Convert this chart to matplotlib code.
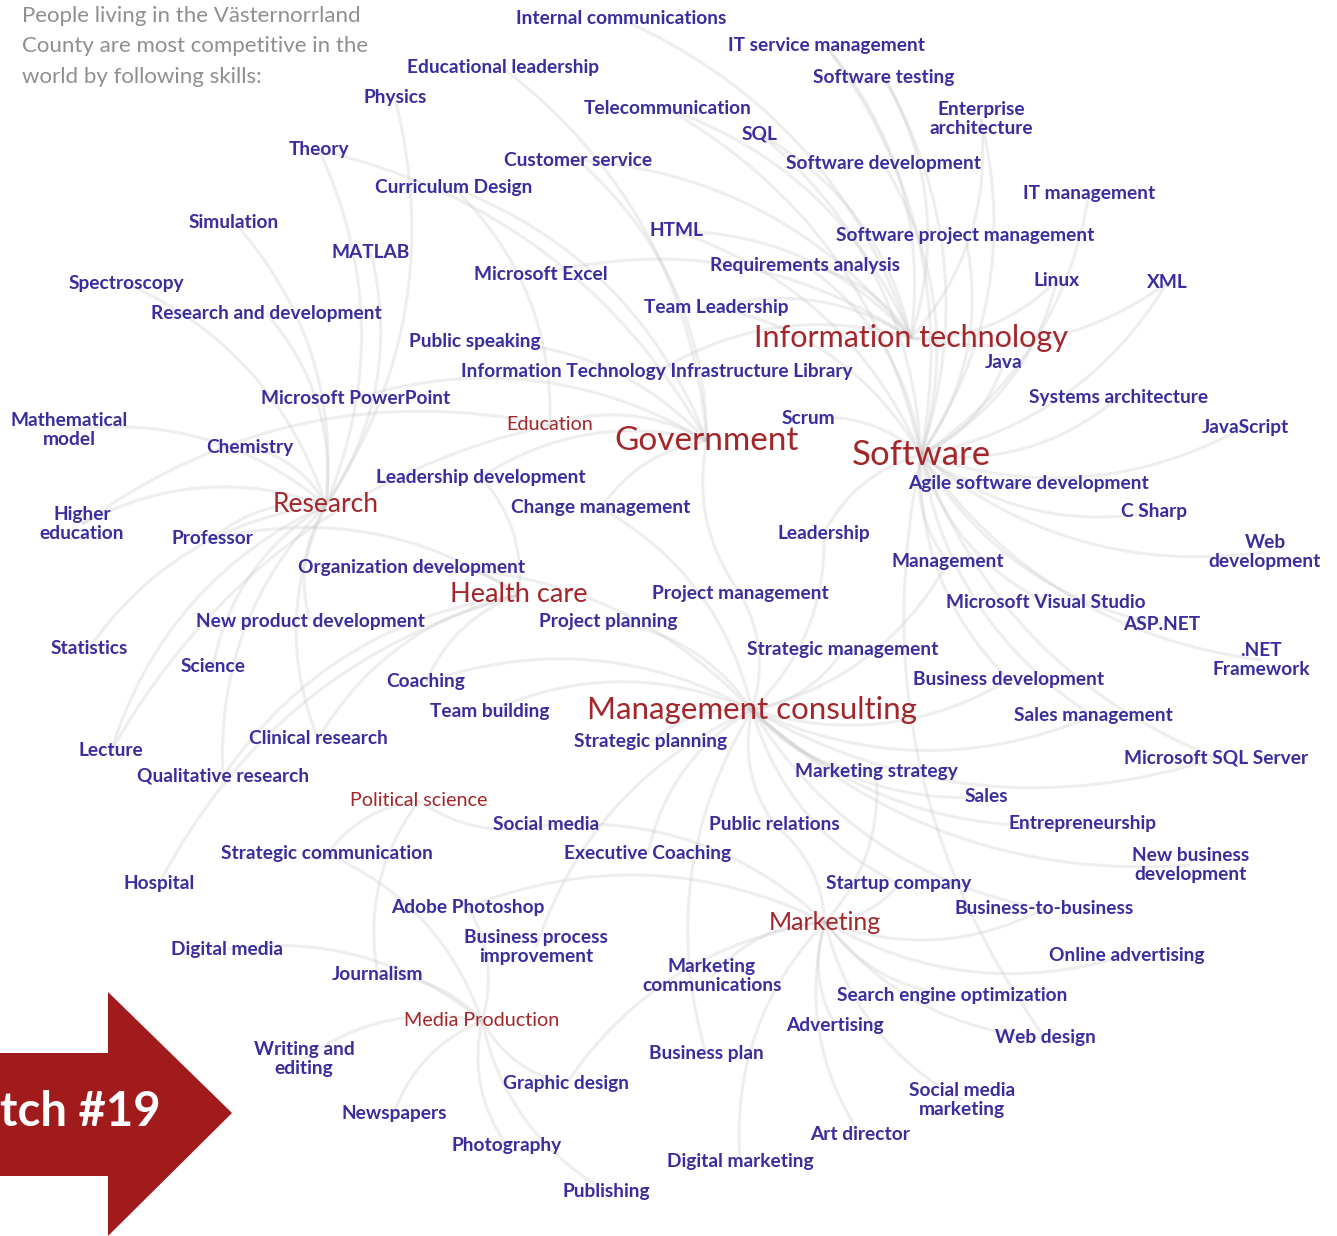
import matplotlib
matplotlib.use("Agg")
import matplotlib.pyplot as plt
from matplotlib.path import Path
from matplotlib.patches import PathPatch, Polygon
import numpy as np

plt.rcParams['font.family'] = ['Lato', 'DejaVu Sans']

# ---------------- data ----------------
intro = "People living in the Västernorrland\nCounty are most competitive in the\nworld by following skills:"
badge = "tch #19"

hubs = ["Information technology", "Government", "Software", "Management consulting",
        "Research", "Health care", "Marketing"]
minor_hubs = ["Education", "Political science", "Media Production"]

skills = [
    "Internal communications", "IT service management", "Educational leadership", "Software testing",
    "Physics", "Telecommunication", "Enterprise\narchitecture", "SQL", "Theory", "Customer service",
    "Software development", "Curriculum Design", "IT management", "Simulation", "HTML",
    "Software project management", "MATLAB", "Requirements analysis", "Microsoft Excel", "Linux",
    "XML", "Spectroscopy", "Team Leadership", "Research and development", "Public speaking",
    "Information Technology Infrastructure Library", "Java", "Systems architecture",
    "Microsoft PowerPoint", "Mathematical\nmodel", "JavaScript", "Scrum", "Chemistry",
    "Leadership development", "Agile software development", "Higher\neducation",
    "Change management", "C Sharp", "Professor", "Leadership", "Web\ndevelopment", "Management",
    "Organization development", "Project management", "Microsoft Visual Studio",
    "New product development", "Project planning", "ASP.NET", "Statistics", "Strategic management",
    ".NET\nFramework", "Science", "Coaching", "Business development", "Team building",
    "Sales management", "Clinical research", "Strategic planning", "Lecture",
    "Microsoft SQL Server", "Marketing strategy", "Qualitative research", "Sales", "Social media",
    "Public relations", "Entrepreneurship", "Strategic communication", "Executive Coaching",
    "New business\ndevelopment", "Hospital", "Startup company", "Adobe Photoshop",
    "Business-to-business", "Business process\nimprovement", "Digital media", "Online advertising",
    "Marketing\ncommunications", "Journalism", "Search engine optimization", "Advertising",
    "Web design", "Writing and\nediting", "Business plan", "Graphic design",
    "Social media\nmarketing", "Newspapers", "Art director", "Photography", "Digital marketing",
    "Publishing",
]

edges = {
    "Software": ["Software testing", "Software development", "Enterprise\narchitecture", "IT management",
                 "Software project management", "Linux", "XML", "Java", "Systems architecture",
                 "JavaScript", "Agile software development", "C Sharp", "Web\ndevelopment",
                 "Microsoft Visual Studio", "ASP.NET", ".NET\nFramework", "Microsoft SQL Server", "SQL",
                 "HTML", "Requirements analysis", "Scrum", "Management", "Leadership",
                 "IT service management", "Telecommunication", "Team Leadership",
                 "Business development", "Sales management", "Web design"],
    "Information technology": ["IT service management", "Software testing", "SQL", "Telecommunication",
                               "Internal communications", "Customer service", "Enterprise\narchitecture",
                               "Linux", "XML", "Information Technology Infrastructure Library",
                               "Requirements analysis", "HTML", "Microsoft Excel", "Team Leadership"],
    "Government": ["Public speaking", "Educational leadership", "Leadership development",
                   "Change management", "Education", "Project management", "Curriculum Design",
                   "Microsoft PowerPoint", "Theory", "Customer service"],
    "Management consulting": ["Strategic management", "Business development", "Sales management",
                              "Marketing strategy", "Sales", "Public relations", "Entrepreneurship",
                              "Executive Coaching", "Strategic planning", "Team building", "Coaching",
                              "Project planning", "Project management", "Leadership", "Management",
                              "New business\ndevelopment", "Startup company", "Business-to-business",
                              "Business process\nimprovement", "Business plan", "Change management",
                              "Organization development", "Microsoft SQL Server"],
    "Research": ["Physics", "Theory", "Simulation", "MATLAB", "Spectroscopy", "Research and development",
                 "Mathematical\nmodel", "Chemistry", "Higher\neducation", "Professor", "Statistics",
                 "Science", "Lecture", "Qualitative research", "Clinical research",
                 "New product development"],
    "Health care": ["Clinical research", "Hospital", "Organization development", "Coaching", "Professor",
                    "Leadership development", "Qualitative research"],
    "Marketing": ["Online advertising", "Search engine optimization", "Advertising", "Web design",
                  "Social media\nmarketing", "Art director", "Digital marketing",
                  "Marketing\ncommunications", "Social media", "Public relations", "Startup company",
                  "Business-to-business", "Marketing strategy", "Graphic design", "Adobe Photoshop"],
    "Media Production": ["Writing and\nediting", "Newspapers", "Photography", "Publishing", "Journalism",
                         "Digital media", "Graphic design", "Adobe Photoshop", "Strategic communication"],
    "Political science": ["Strategic communication", "Social media", "Journalism"],
    "Education": ["Curriculum Design", "Higher\neducation", "Lecture"],
}

# ---------------- layout (pixel positions of label centres) ----------------
layout = {
    "Information technology": (911, 338), "Government": (707, 441), "Software": (921, 455),
    "Management consulting": (752, 710), "Research": (326, 505), "Health care": (519, 595),
    "Marketing": (825, 922), "Education": (550, 425), "Political science": (419, 801),
    "Media Production": (482, 1021),
    "Internal communications": (621, 19), "IT service management": (826, 46),
    "Educational leadership": (503, 68), "Software testing": (884, 77), "Physics": (395, 98),
    "Telecommunication": (668, 109), "Enterprise\narchitecture": (981, 119), "SQL": (760, 134),
    "Theory": (319, 150), "Customer service": (578, 160), "Software development": (883, 163),
    "Curriculum Design": (454, 188), "IT management": (1089, 193), "Simulation": (234, 222),
    "HTML": (676, 231), "Software project management": (965, 235), "MATLAB": (371, 253),
    "Requirements analysis": (805, 265), "Microsoft Excel": (541, 274), "Linux": (1057, 280),
    "XML": (1167, 283), "Spectroscopy": (126, 283), "Team Leadership": (716, 307),
    "Research and development": (266, 313), "Public speaking": (475, 342),
    "Information Technology Infrastructure Library": (657, 372), "Java": (1004, 362),
    "Systems architecture": (1119, 397), "Microsoft PowerPoint": (356, 398),
    "Mathematical\nmodel": (69, 430), "JavaScript": (1245, 427), "Scrum": (808, 418),
    "Chemistry": (250, 447), "Leadership development": (481, 477),
    "Agile software development": (1028, 483), "Higher\neducation": (82, 524),
    "Change management": (601, 508), "C Sharp": (1154, 512), "Professor": (212, 539),
    "Leadership": (824, 533), "Web\ndevelopment": (1265, 552), "Management": (948, 562),
    "Organization development": (412, 568), "Project management": (740, 593),
    "Microsoft Visual Studio": (1046, 602), "New product development": (310, 621),
    "Project planning": (608, 621), "ASP.NET": (1162, 625), "Statistics": (89, 648),
    "Strategic management": (843, 650), ".NET\nFramework": (1261, 660), "Science": (213, 666),
    "Coaching": (426, 682), "Business development": (1009, 680), "Team building": (490, 711),
    "Sales management": (1093, 716), "Clinical research": (318, 739),
    "Strategic planning": (651, 742), "Lecture": (111, 751), "Microsoft SQL Server": (1216, 758),
    "Marketing strategy": (876, 772), "Qualitative research": (223, 776), "Sales": (986, 797),
    "Social media": (546, 825), "Public relations": (774, 824), "Entrepreneurship": (1082, 824),
    "Strategic communication": (327, 854), "Executive Coaching": (648, 853),
    "New business\ndevelopment": (1191, 865), "Hospital": (159, 884), "Startup company": (899, 884),
    "Adobe Photoshop": (468, 907), "Business-to-business": (1044, 909),
    "Business process\nimprovement": (536, 947), "Digital media": (227, 949),
    "Online advertising": (1127, 955), "Marketing\ncommunications": (712, 976),
    "Journalism": (378, 975), "Search engine optimization": (952, 995), "Advertising": (835, 1025),
    "Web design": (1045, 1038), "Writing and\nediting": (304, 1059), "Business plan": (706, 1054),
    "Graphic design": (566, 1084), "Social media\nmarketing": (962, 1100), "Newspapers": (394, 1113),
    "Art director": (860, 1134), "Photography": (507, 1146), "Digital marketing": (740, 1161),
    "Publishing": (606, 1191),
}
hub_size = {"Information technology": 22, "Government": 24, "Software": 25,
            "Management consulting": 22.5, "Research": 19, "Health care": 19.5, "Marketing": 18}

BLUE = "#3b2d9e"
RED = "#a3262b"
EDGE = "#c4c4c4"

W, H = 1337, 1236
fig = plt.figure(figsize=(W / 100, H / 100), dpi=100)
ax = fig.add_axes([0, 0, 1, 1])
ax.set_xlim(0, W)
ax.set_ylim(H, 0)
ax.axis("off")

# edges as curved arcs
for hub, leaves in edges.items():
    x0, y0 = layout[hub]
    for leaf in leaves:
        x1, y1 = layout[leaf]
        mx, my = (x0 + x1) / 2, (y0 + y1) / 2
        dx, dy = x1 - x0, y1 - y0
        cx, cy = mx - 0.22 * dy, my + 0.22 * dx
        p = Path([(x0, y0), (cx, cy), (x1, y1)], [Path.MOVETO, Path.CURVE3, Path.CURVE3])
        ax.add_patch(PathPatch(p, fc="none", ec=EDGE, lw=2.2, alpha=0.28, zorder=1))

# skill labels
for s in skills:
    x, y = layout[s]
    ax.text(x, y, s, ha="center", va="center", fontsize=13.8, fontweight="bold",
            color=BLUE, linespacing=1.1, zorder=3)

for h in hubs:
    x, y = layout[h]
    ax.text(x, y, h, ha="center", va="center", fontsize=hub_size[h], color=RED, zorder=3)

for h in minor_hubs:
    x, y = layout[h]
    ax.text(x, y, h, ha="center", va="center", fontsize=14.2, color=RED, zorder=3)

# intro text
ax.text(22, 6, intro, ha="left", va="top", fontsize=16, color="#8f8f8f",
        linespacing=1.65, zorder=3)

# red arrow badge
arrow = Polygon([(0, 1053), (108, 1053), (108, 992), (232, 1113), (108, 1236),
                 (108, 1176), (0, 1176)], closed=True, fc="#a11a1c", ec="none", zorder=4)
ax.add_patch(arrow)
ax.text(0, 1112, badge, ha="left", va="center", fontsize=34, fontweight="bold",
        color="white", zorder=5)

fig.savefig("out.png", dpi=100, facecolor="white")
